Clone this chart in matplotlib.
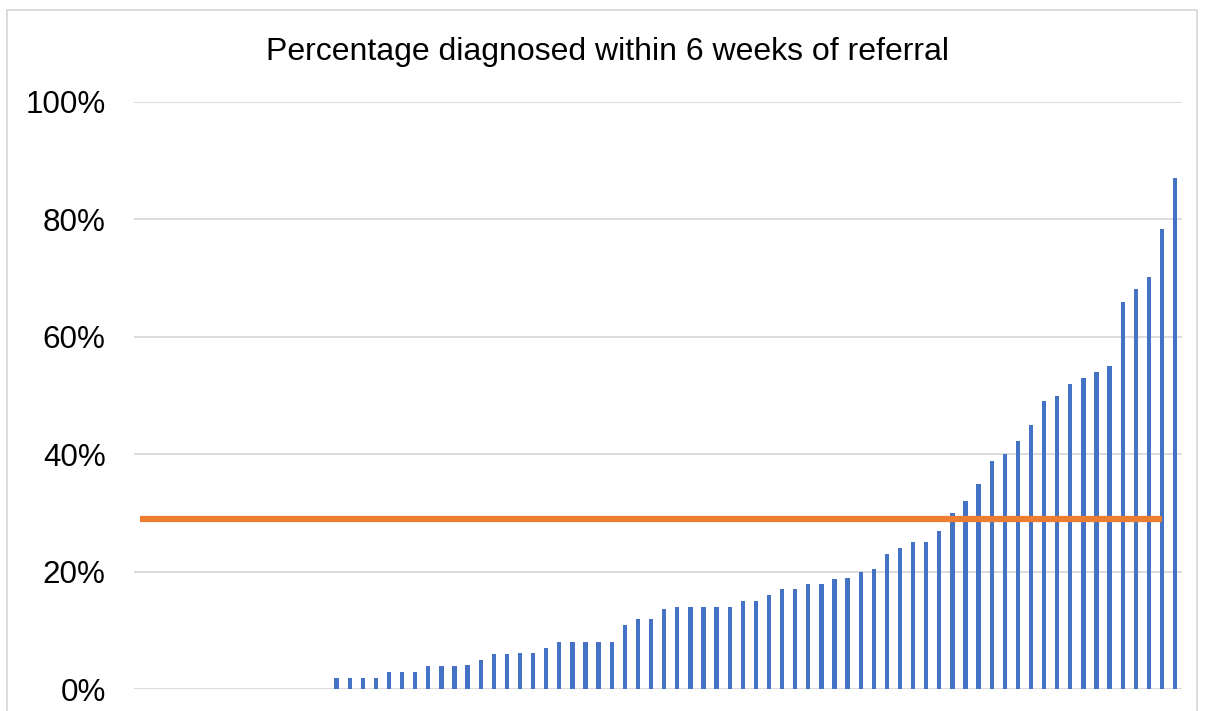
import matplotlib.pyplot as plt
import numpy as np
from matplotlib.patches import Rectangle
from matplotlib.ticker import PercentFormatter

plt.rcParams['font.family'] = ['Liberation Sans', 'DejaVu Sans']

# share diagnosed within 6 weeks, sorted ascending (15 empty slots first)
n_zero = 15
pct = [2, 2, 2, 2, 3, 3, 3, 4, 4, 4, 4.2, 5, 6, 6, 6.1, 6.2,
       7, 8, 8, 8, 8, 8.1, 11, 12, 12, 13.7, 14, 14, 14, 14, 14,
       15, 15, 16, 17, 17.1, 18, 18, 18.8, 19, 20, 20.4, 23.1, 24.1,
       25, 25, 27, 30, 32, 35, 38.9, 40, 42.3, 45, 49.1, 50, 52, 53,
       54, 55, 65.9, 68.2, 70.1, 78.3, 87.1]
values = np.array([0] * n_zero + pct) / 100
average = 0.29
n_avg = 79

x = np.arange(len(values))

fig = plt.figure(figsize=(12.05, 7.11), dpi=100)
ax = fig.add_axes([133.5 / 1205, 1 - 689.3 / 711, (1181.7 - 133.5) / 1205, (689.3 - 101.7) / 711])

ax.bar(x, values, width=0.33, color='#4472C4', zorder=2)
ax.plot(x[:n_avg], [average] * n_avg, color='#ED7D31', lw=4.5, solid_capstyle='butt', zorder=3)

ax.set_xlim(-0.5, len(values) - 0.5)
ax.set_ylim(0, 1)
ax.set_yticks(np.arange(0, 1.01, 0.2))
ax.yaxis.set_major_formatter(PercentFormatter(1.0, decimals=0))
ax.tick_params(axis='y', length=0, pad=20, labelsize=22.6)
ax.set_xticks([])
ax.grid(axis='y', color='#D9D9D9', lw=1.3, zorder=0)
for s in ax.spines.values():
    s.set_visible(False)

fig.text(608 / 1205, 1 - 60 / 711, 'Percentage diagnosed within 6 weeks of referral',
         ha='center', va='baseline', fontsize=23)

# chart border
fig.patches.append(Rectangle((7 / 1205, -0.01), 1190 / 1205, 1 - 10 / 711 + 0.01,
                             transform=fig.transFigure, fill=False, ec='#D9D9D9', lw=1.3))

fig.savefig('out.png', dpi=100)
